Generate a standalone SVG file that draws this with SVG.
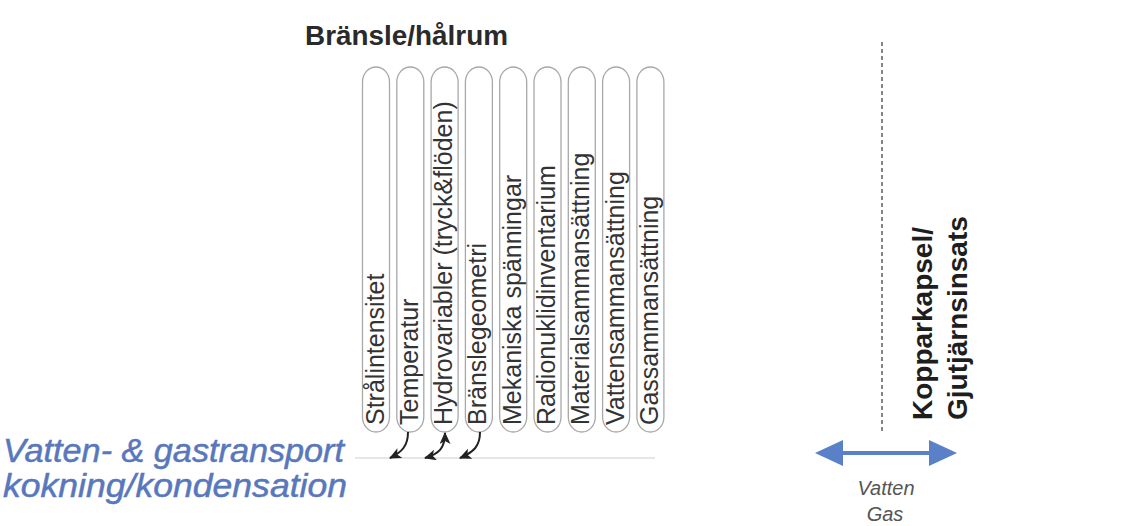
<svg xmlns="http://www.w3.org/2000/svg" width="1125" height="526" viewBox="0 0 1125 526">
<defs>
<style>
.pill{fill:#fff;stroke:#a8a8a8;stroke-width:1.3}
.ptxt{font-family:"Liberation Sans",Arial,sans-serif;font-size:25px;fill:#333}
.title{font-family:"Liberation Sans",Arial,sans-serif;font-size:27px;font-weight:bold;fill:#2a2a2a}
.blue{font-family:"Liberation Sans",Arial,sans-serif;font-size:33px;font-style:italic;fill:#5877bd;stroke:#5877bd;stroke-width:0.5}
.side{font-family:"Liberation Sans",Arial,sans-serif;font-size:28px;font-weight:bold;fill:#1e1e1e}
.small{font-family:"Liberation Sans",Arial,sans-serif;font-size:20px;font-style:italic;fill:#555}
.curve{fill:none;stroke:#222;stroke-width:2}
.bluearrow{fill:#5a80c8}
</style>
<marker id="ah" markerUnits="userSpaceOnUse" markerWidth="12" markerHeight="11" refX="11" refY="5.5" orient="auto-start-reverse" viewBox="0 0 12 11">
<path d="M0,0 L12,5.5 L0,11 L3,5.5 z" fill="#222"/>
</marker>
</defs>
<rect width="1125" height="526" fill="#fff"/>

<g id="title"><text class="title" x="305" y="45" textLength="203" lengthAdjust="spacingAndGlyphs">Bränsle/hålrum</text></g>

<g id="p1"><rect class="pill" x="362.5" y="67" width="27" height="365" rx="13.5" ry="15"/><text class="ptxt" transform="translate(383.5,425) rotate(-90)">Strålintensitet</text></g>
<g id="p2"><rect class="pill" x="396.8" y="67" width="27" height="365" rx="13.5" ry="15"/><text class="ptxt" transform="translate(417.8,425) rotate(-90)">Temperatur</text></g>
<g id="p3"><rect class="pill" x="431.1" y="67" width="27" height="365" rx="13.5" ry="15"/><text class="ptxt" transform="translate(452.1,425) rotate(-90)">Hydrovariabler (tryck&amp;flöden)</text></g>
<g id="p4"><rect class="pill" x="465.4" y="67" width="27" height="365" rx="13.5" ry="15"/><text class="ptxt" transform="translate(486.4,425) rotate(-90)">Bränslegeometri</text></g>
<g id="p5"><rect class="pill" x="499.7" y="67" width="27" height="365" rx="13.5" ry="15"/><text class="ptxt" transform="translate(520.7,425) rotate(-90)">Mekaniska spänningar</text></g>
<g id="p6"><rect class="pill" x="534" y="67" width="27" height="365" rx="13.5" ry="15"/><text class="ptxt" transform="translate(555,425) rotate(-90)">Radionuklidinventarium</text></g>
<g id="p7"><rect class="pill" x="568.3" y="67" width="27" height="365" rx="13.5" ry="15"/><text class="ptxt" transform="translate(589.3,425) rotate(-90)">Materialsammansättning</text></g>
<g id="p8"><rect class="pill" x="602.6" y="67" width="27" height="365" rx="13.5" ry="15"/><text class="ptxt" transform="translate(623.6,425) rotate(-90)">Vattensammansättning</text></g>
<g id="p9"><rect class="pill" x="636.9" y="67" width="27" height="365" rx="13.5" ry="15"/><text class="ptxt" transform="translate(657.9,425) rotate(-90)">Gassammansättning</text></g>

<g id="transport">
<text class="blue" x="3" y="462" textLength="341" lengthAdjust="spacingAndGlyphs">Vatten- &amp; gastransport</text>
<text class="blue" x="3" y="497" textLength="344" lengthAdjust="spacingAndGlyphs">kokning/kondensation</text>
</g>

<g id="kapsel">
<text class="side" transform="translate(932,420) rotate(-90)">Kopparkapsel/</text>
<text class="side" transform="translate(967,420) rotate(-90)">Gjutjärnsinsats</text>
</g>

<g id="flowlabel">
<text class="small" x="886" y="495" text-anchor="middle">Vatten</text>
<text class="small" x="885" y="521" text-anchor="middle">Gas</text>
</g>

<g id="connectors">
<line x1="355" y1="458" x2="655" y2="458" stroke="#dedede" stroke-width="1.5"/>
<path class="curve" d="M408,432 C408,446 402,452 390,458" marker-end="url(#ah)"/>
<path class="curve" d="M445,433 C445,448 439,454 425,458" marker-start="url(#ah)" marker-end="url(#ah)"/>
<path class="curve" d="M480,432 C480,446 474,452 460,458" marker-end="url(#ah)"/>
<line x1="882" y1="42" x2="882" y2="433" stroke="#444" stroke-width="1.3" stroke-dasharray="4 3"/>
<line x1="840" y1="453" x2="932" y2="453" stroke="#5a80c8" stroke-width="4"/>
<polygon class="bluearrow" points="815,453 843,440 843,466"/>
<polygon class="bluearrow" points="957,453 929,440 929,466"/>
</g>
</svg>
